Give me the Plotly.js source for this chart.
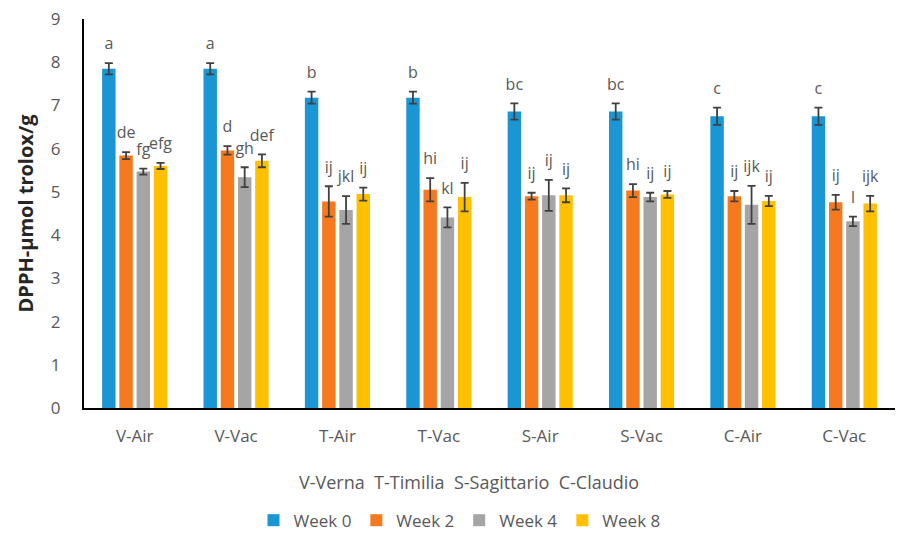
<!DOCTYPE html>
<html><head><meta charset="utf-8">
<script src="https://cdn.plot.ly/plotly-3.0.1.min.js"></script>
<style>body{margin:0;background:#fff}#c{width:899px;height:534px}</style>
</head><body><div id="c"></div>
<script>
const categories = ["V-Air","V-Vac","T-Air","T-Vac","S-Air","S-Vac","C-Air","C-Vac"];
const seriesNames = ["Week 0","Week 2","Week 4","Week 8"];
const week0 = [7.85,7.85,7.18,7.18,6.86,6.86,6.75,6.75];
const week2 = [5.84,5.96,4.78,5.05,4.90,5.03,4.90,4.76];
const week4 = [5.47,5.34,4.58,4.41,4.92,4.88,4.70,4.32];
const week8 = [5.60,5.72,4.95,4.88,4.92,4.94,4.79,4.73];
const err0 = [0.13,0.13,0.14,0.14,0.19,0.19,0.20,0.20];
const err2 = [0.08,0.10,0.35,0.27,0.08,0.15,0.12,0.17];
const err4 = [0.07,0.23,0.32,0.23,0.36,0.10,0.44,0.11];
const err8 = [0.07,0.15,0.15,0.33,0.16,0.08,0.12,0.18];
const letters0 = ["a","a","b","b","bc","bc","c","c"];
const letters2 = ["de","d","ij","hi","ij","hi","ij","ij"];
const letters4 = ["fg","gh","jkl","kl","ij","ij","ijk","l"];
const letters8 = ["efg","def","ij","ij","ij","ij","ij","ijk"];
const colors = ["#1996D3","#F57A1F","#A5A5A5","#FFC000"];
const yTicks = [0,1,2,3,4,5,6,7,8,9];
const footnote = "V-Verna  T-Timilia  S-Sagittario  C-Claudio";

const vals = [week0,week2,week4,week8];
const errs = [err0,err2,err4,err8];
const lets = [letters0,letters2,letters4,letters8];
const traces = [];
vals.forEach((v,i)=>{
  traces.push({type:'bar',name:seriesNames[i],x:categories,y:v,offsetgroup:String(i),
    marker:{color:colors[i]},
    error_y:{type:'data',array:errs[i],visible:true,color:'#404040',thickness:1.8,width:4}});
});
vals.forEach((v,i)=>{
  traces.push({type:'scatter',mode:'markers+text',x:categories,y:v.map((d,k)=>d+errs[i][k]),
    marker:{size:14,opacity:0},
    text:lets[i],textposition:'top center',offsetgroup:String(i),showlegend:false,
    textfont:{family:'Open Sans, sans-serif',size:16,color:'#595959'},hoverinfo:'skip',cliponaxis:false});
});
const layout = {
  width:899,height:534,margin:{l:84,r:4,t:19,b:126},
  paper_bgcolor:'#fff',plot_bgcolor:'#fff',
  barmode:'group',bargap:0.32,bargroupgap:0.22,
  scattermode:'group',scattergap:0.32,
  font:{family:'Open Sans, sans-serif',color:'#595959'},
  xaxis:{showline:true,linecolor:'#000',linewidth:2,ticks:'',tickfont:{size:17,color:'#595959'},ticklabelstandoff:12,showgrid:false,zeroline:false,automargin:false},
  yaxis:{range:[0,9],tickvals:yTicks,showline:true,linecolor:'#000',linewidth:2,ticks:'',showgrid:false,zeroline:false,automargin:false,
    tickfont:{size:17,color:'#595959'},ticklabelstandoff:18,
    title:{text:'<b>DPPH-µmol trolox/g</b>',font:{size:20,color:'#262626'},standoff:12}},
  legend:{orientation:'h',x:0.463,xanchor:'center',yref:'container',y:0.025,yanchor:'middle',font:{size:17,color:'#595959'},
    itemwidth:30,traceorder:'normal'},
  annotations:[{text:footnote,xref:'paper',yref:'paper',x:0.475,y:-0.19,xanchor:'center',yanchor:'middle',showarrow:false,
    font:{size:18,color:'#595959'}}]
};
Plotly.newPlot('c',traces,layout,{displayModeBar:false});
</script></body></html>
